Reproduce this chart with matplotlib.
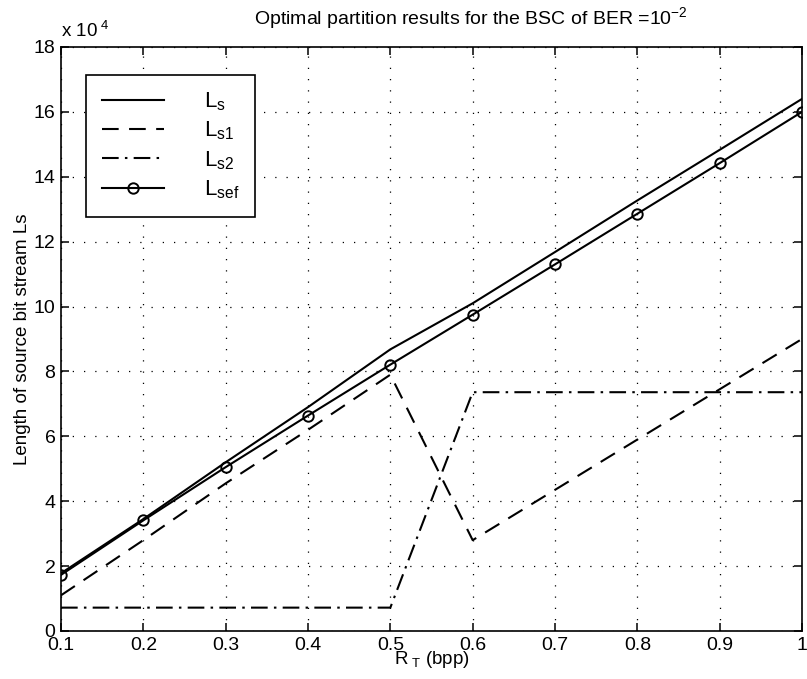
import numpy as np
import matplotlib
matplotlib.use("Agg")
import matplotlib.pyplot as plt

plt.rcParams['font.family'] = ['Liberation Sans', 'DejaVu Sans']
plt.rcParams['mathtext.fontset'] = 'custom'
plt.rcParams['mathtext.rm'] = 'Liberation Sans'
plt.rcParams['mathtext.it'] = 'Liberation Sans'

# データ（単位 x10^4）
rate = [0.1, 0.2, 0.3, 0.4, 0.5, 0.6, 0.7, 0.8, 0.9, 1.0]
Ls = [1.78, 3.45, 5.2, 6.9, 8.68, 10.1, 11.68, 13.27, 14.83, 16.4]
Ls1 = [1.1, 2.8, 4.55, 6.2, 7.9, 2.8, 4.35, 5.9, 7.45, 9.0]
Ls2 = [0.72, 0.72, 0.72, 0.72, 0.72, 7.36, 7.36, 7.36, 7.36, 7.36]
Lsef = [1.73, 3.41, 5.05, 6.64, 8.21, 9.75, 11.3, 12.86, 14.42, 16.0]

xticks = [0.1, 0.2, 0.3, 0.4, 0.5, 0.6, 0.7, 0.8, 0.9, 1]
xticklabels = ["0.1", "0.2", "0.3", "0.4", "0.5", "0.6", "0.7", "0.8", "0.9", "1"]
yticks = [0, 2, 4, 6, 8, 10, 12, 14, 16, 18]

fig = plt.figure(figsize=(8.07, 6.79), dpi=100)
ax = fig.add_axes([0.0756, 0.0707, 0.9182, 0.8601])

lw = 1.5
ax.plot(rate, Ls, color="black", linewidth=lw, linestyle="-", label=r"L$_\mathregular{s}$")
ax.plot(rate, Ls1, color="black", linewidth=lw, linestyle=(0, (8, 5)), label=r"L$_\mathregular{s1}$")
ax.plot(rate, Ls2, color="black", linewidth=lw, linestyle=(0, (8, 3, 1.2, 3)), label=r"L$_\mathregular{s2}$")
ax.plot(rate, Lsef, color="black", linewidth=lw, linestyle="-", marker="o",
        markersize=7.5, markerfacecolor="none", markeredgewidth=1.4, label=r"L$_\mathregular{sef}$")

ax.set_xlim(0.1, 1)
ax.set_ylim(0, 18)
ax.set_xticks(xticks)
ax.set_xticklabels(xticklabels)
ax.set_yticks(yticks)
ax.tick_params(direction="in", top=True, right=True, labelsize=14, length=6, width=1.1, pad=4)
ax.grid(True, color="black", linestyle=(0, (1, 8)), linewidth=0.9)
for s in ax.spines.values():
    s.set_linewidth(1.2)

#タイトル（少し右寄り）
fig.text(0.584, 0.955, r"Optimal partition results for the BSC of BER =10$^{-2}$",
         fontsize=14, ha="center", va="bottom")
ax.set_xlabel(r"R$_{\ \mathregular{T}}$ (bpp)", fontsize=13.5, labelpad=-3)
ax.set_ylabel("Length of source bit stream Ls", fontsize=13.5, labelpad=2)
ax.text(0.0, 1.01, r"x 10$^{\ \mathregular{4}}$", transform=ax.transAxes, fontsize=13.5,
        ha="left", va="bottom")

leg = ax.legend(loc="upper left", bbox_to_anchor=(0.034, 0.952), fontsize=16,
                handlelength=2.8, handletextpad=1.8, labelspacing=0.3,
                borderpad=0.7, borderaxespad=0, fancybox=False, framealpha=1)
leg.get_frame().set_edgecolor("black")
leg.get_frame().set_linewidth(1.2)

fig.savefig("out.png", dpi=100)
